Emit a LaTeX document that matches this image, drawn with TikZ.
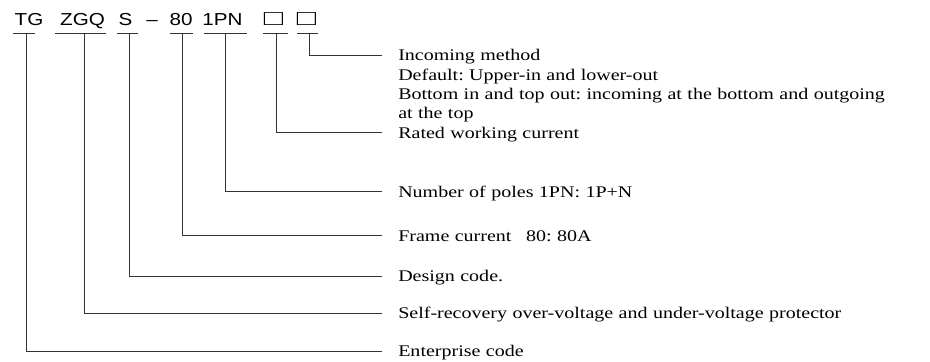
\documentclass[tikz,border=0pt]{standalone}
\usepackage{fontspec}
\setmainfont[FakeStretch=1.23]{Liberation Serif}
\newfontfamily\codefont[FakeStretch=1.19]{Liberation Sans}
\newcommand\blank{\scalebox{1.55}[1.25]{□}}
\begin{document}
\frenchspacing
\begin{tikzpicture}[x=0.75pt,y=-0.75pt,line cap=butt,line join=miter]
		\tikzset{code/.style={font=\codefont\fontsize{13}{13}\selectfont,inner sep=0pt,anchor=base},
			meaning/.style={font=\fontsize{12.2}{14.55}\selectfont,anchor=base west,inner xsep=12pt,inner ysep=0pt,
				text width=420pt,align=left},
			lead/.style={line width=0.6pt,black!80}}
		\useasboundingbox (0,0) rectangle (930,361);
		%--------- Model code
		\node[code] (tg) at (29,25) {TG};
		\node[code] (zgq) at (82.5,25) {ZGQ};
		\node[code] (s) at (125.5,25) {S};
		\node[code] (dash) at (152,25) {–};
		\node[code] (frame) at (181,25) {80};
		\node[code] (poles) at (222.5,25) {1PN};
		\node[code] (rated) at (273.5,25) {\blank};
		\node[code] (wiring) at (306.5,25) {\blank};
		%--------- Underlines
		\draw[lead] (13,33)--(35,33) (55,33)--(106,33) (117,33)--(138,33) (170,33)--(193,33)
			(204,33)--(247,33) (263,33)--(288,33) (297,33)--(318,33);
		\coordinate (tgbar) at (26,33);
		\coordinate (zgqbar) at (84,33);
		\coordinate (sbar) at (129,33);
		\coordinate (framebar) at (182,33);
		\coordinate (polesbar) at (225,33);
		\coordinate (ratedbar) at (276,33);
		\coordinate (wiringbar) at (309,33);
		%--------- Meanings
		\node[meaning] (wiringtxt) at (382,60.7) {Incoming method\\
			Default: Upper-in and lower-out\\
			Bottom in and top out: incoming at the bottom and outgoing\\
			at the top};
		\node[meaning] (ratedtxt) at (382,138.4) {Rated working current};
		\node[meaning] (polestxt) at (382,197.5) {Number of poles 1PN: 1P+N};
		\node[meaning] (frametxt) at (382,241) {Frame current\hspace{11pt}80: 80A};
		\node[meaning] (stxt) at (382,281.8) {Design code.};
		\node[meaning] (zgqtxt) at (382,318.8) {Self-recovery over-voltage and under-voltage protector};
		\node[meaning] (tgtxt) at (382,356.8) {Enterprise code};
		%--------- Leaders
		\foreach \c in {tg,zgq,s,frame,poles,rated,wiring}
			\draw[lead] (\c bar) |- ([yshift=4.3pt]\c txt.base west);
	\end{tikzpicture}
\end{document}
